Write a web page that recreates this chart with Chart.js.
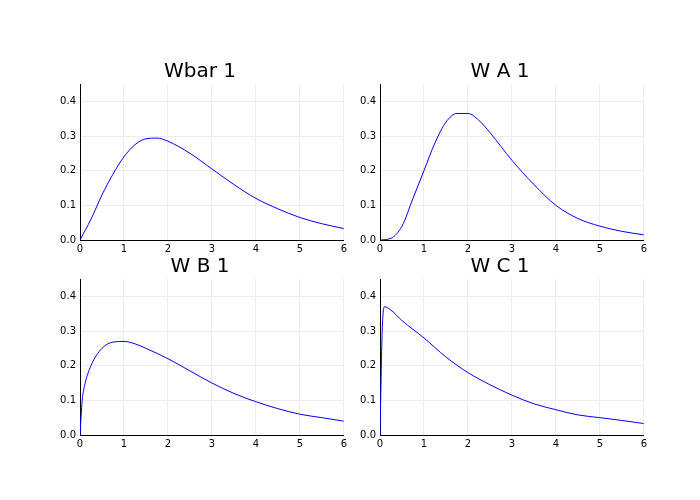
<!DOCTYPE html>
<html>
<head>
<meta charset="utf-8">
<script src="https://cdn.jsdelivr.net/npm/chart.js@4/dist/chart.umd.min.js"></script>
<style>
  body { margin: 0; background: #fff; }
  #wrap { position: relative; width: 700px; height: 500px; }
  canvas { position: absolute; }
</style>
</head>
<body>
<div id="wrap">
  <canvas id="c1" style="left:50px;top:60px;width:300px;height:200px" width="300" height="200"></canvas>
  <canvas id="c2" style="left:350px;top:60px;width:300px;height:200px" width="300" height="200"></canvas>
  <canvas id="c3" style="left:50px;top:255px;width:300px;height:200px" width="300" height="200"></canvas>
  <canvas id="c4" style="left:350px;top:255px;width:300px;height:200px" width="300" height="200"></canvas>
</div>
<script>
// valori
const titles = ["Wbar 1", "W A 1", "W B 1", "W C 1"];
const xTicks = [0, 1, 2, 3, 4, 5, 6];
const yTicks = [0.0, 0.1, 0.2, 0.3, 0.4];

const xWbar = [0, 0.25, 0.5, 0.75, 1, 1.25, 1.5, 1.75, 2, 2.5, 3, 3.5, 4, 4.5, 5, 5.5, 6];
const yWbar = [0, 0.06, 0.13, 0.19, 0.24, 0.275, 0.292, 0.294, 0.285, 0.25, 0.205, 0.16, 0.12, 0.09, 0.065, 0.047, 0.033];

const xWA = [0, 0.25, 0.5, 0.75, 1, 1.25, 1.5, 1.75, 2, 2.25, 2.5, 3, 3.5, 4, 4.5, 5, 5.5, 6];
const yWA = [0, 0.005, 0.04, 0.12, 0.2, 0.28, 0.34, 0.365, 0.365, 0.345, 0.31, 0.23, 0.16, 0.1, 0.062, 0.04, 0.025, 0.015];

const xWB = [0, 0.05, 0.1, 0.25, 0.5, 0.75, 1, 1.25, 1.5, 2, 2.5, 3, 3.5, 4, 4.5, 5, 5.5, 6];
const yWB = [0, 0.1, 0.14, 0.2, 0.25, 0.268, 0.27, 0.263, 0.25, 0.22, 0.185, 0.15, 0.12, 0.096, 0.076, 0.06, 0.05, 0.04];

const xWC = [0, 0.05, 0.1, 0.25, 0.5, 1, 1.5, 2, 2.5, 3, 3.5, 4, 4.5, 5, 5.5, 6];
const yWC = [0, 0.3, 0.37, 0.36, 0.33, 0.28, 0.225, 0.18, 0.145, 0.115, 0.09, 0.073, 0.058, 0.05, 0.042, 0.033];

const series = [[xWbar, yWbar], [xWA, yWA], [xWB, yWB], [xWC, yWC]];

function makePanel(id, title, xs, ys) {
    const pts = xs.map((x, i) => ({ x: x, y: ys[i] }));
    return new Chart(document.getElementById(id), {
        type: 'scatter',
        data: { datasets: [{ data: pts, showLine: true, borderColor: '#0000ff', borderWidth: 1, pointRadius: 0, tension: 0.4, cubicInterpolationMode: 'monotone' }] },
        options: {
            responsive: false, animation: false,
            layout: { padding: 0 },
            plugins: {
                legend: { display: false }, tooltip: { enabled: false },
                title: { display: true, text: title, color: '#000', font: { family: 'DejaVu Sans', size: 20, weight: 'normal' }, padding: { top: 0, bottom: 0 } }
            },
            scales: {
                x: {
                    type: 'linear', min: 0, max: 6,
                    afterBuildTicks: s => { s.ticks = xTicks.map(v => ({ value: v })); },
                    afterFit: s => { s.height = 20; },
                    ticks: { color: '#000', font: { family: 'DejaVu Sans', size: 10 }, padding: 3, maxRotation: 0 },
                    grid: { color: '#ececec', drawTicks: false },
                    border: { color: '#000' }
                },
                y: {
                    min: 0, max: 0.45,
                    afterBuildTicks: s => { s.ticks = yTicks.map(v => ({ value: v })); },
                    afterFit: s => { s.width = 30; },
                    ticks: { color: '#000', font: { family: 'DejaVu Sans', size: 10 }, padding: 4, callback: v => v.toFixed(1) },
                    grid: { color: '#ececec', drawTicks: false },
                    border: { color: '#000' }
                }
            }
        }
    });
}

['c1', 'c2', 'c3', 'c4'].forEach((id, i) => makePanel(id, titles[i], series[i][0], series[i][1]));
</script>
</body>
</html>
